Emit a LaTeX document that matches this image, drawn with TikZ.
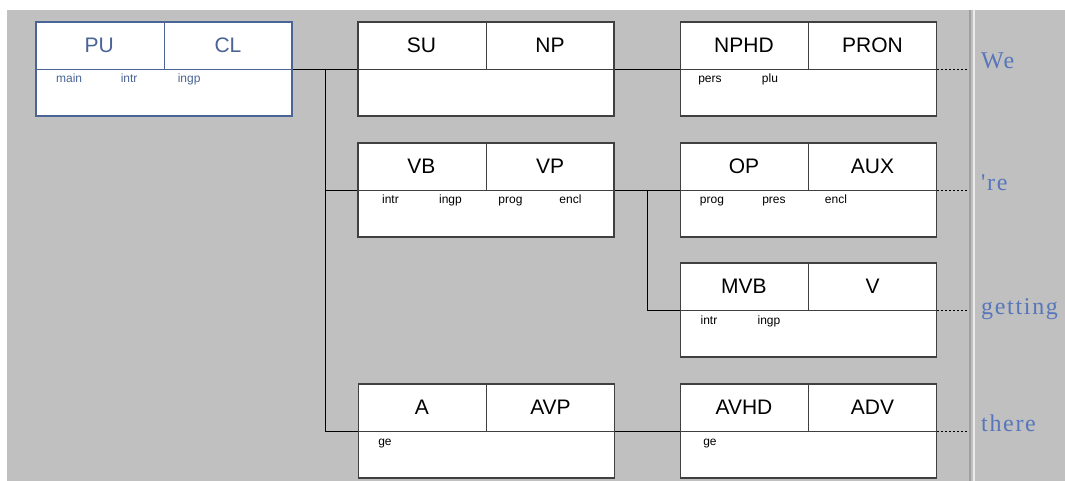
\documentclass[tikz,border=0pt]{standalone}
\usepackage{fontspec}
\setmainfont{Liberation Serif}
\setsansfont{Liberation Sans}
\newfontfamily\wordfont[LetterSpace=7]{Liberation Serif}
\usetikzlibrary{calc}

\definecolor{panelgray}{RGB}{192,192,192}
\definecolor{boxgray}{RGB}{64,64,64}
\definecolor{rootblue}{RGB}{74,100,150}
\definecolor{wordblue}{RGB}{88,118,186}

\begin{document}
\begin{tikzpicture}[x=1pt, y=-1pt, font=\sffamily,
    cat/.style={draw=boxgray, fill=white, line width=1.1pt, minimum width=256pt,
      minimum height=94pt, inner sep=0pt},
    rootcat/.style={cat, draw=rootblue, line width=1.8pt},
    tag/.style={font=\sffamily\fontsize{21}{21}\selectfont},
    feat/.style={font=\sffamily\fontsize{12}{12}\selectfont, anchor=base},
    word/.style={font=\wordfont\fontsize{24}{24}\selectfont, text=wordblue, anchor=base west, inner sep=0pt},
    lead/.style={dash pattern=on 2pt off 2pt, line width=0.7pt}]
  % background panel and separator
  \useasboundingbox (0,0) rectangle (1065,481);
  \fill[panelgray] (7,10) rectangle (1065,481);
  \draw[gray!75, line width=2pt] (970,10) -- (970,481);
  \draw[white!92!black, line width=2pt] (974,10) -- (974,481);
  % boxes
  \node[rootcat] (pu) at (164,69) {};
  \node[cat] (su) at (486,69) {};
  \node[cat] (nphd) at (808.5,69) {};
  \node[cat] (vb) at (486,190) {};
  \node[cat] (op) at (808.5,190) {};
  \node[cat] (mvb) at (808.5,310) {};
  \node[cat] (a) at (486.5,431) {};
  \node[cat] (avhd) at (808.5,431) {};
  % cell dividers
  \draw[rootblue, line width=0.8pt] (pu.west) -- (pu.east) (pu.north) -- (pu.center);
  \foreach \b in {su,nphd,vb,op,mvb,a,avhd}
    \draw[boxgray, line width=0.8pt] (\b.west) -- (\b.east) (\b.north) -- (\b.center);
  % function and category labels
  \node[tag, text=rootblue] (pu-fn) at ($(pu.north west)+(64,24)$) {PU};
  \node[tag, text=rootblue] (pu-ct) at ($(pu.north)+(64,24)$) {CL};
  \node[tag] (su-fn) at ($(su.north west)+(64,24)$) {SU};
  \node[tag] (su-ct) at ($(su.north)+(64,24)$) {NP};
  \node[tag] (nphd-fn) at ($(nphd.north west)+(64,24)$) {NPHD};
  \node[tag] (nphd-ct) at ($(nphd.north)+(64,24)$) {PRON};
  \node[tag] (vb-fn) at ($(vb.north west)+(64,24)$) {VB};
  \node[tag] (vb-ct) at ($(vb.north)+(64,24)$) {VP};
  \node[tag] (op-fn) at ($(op.north west)+(64,24)$) {OP};
  \node[tag] (op-ct) at ($(op.north)+(64,24)$) {AUX};
  \node[tag] (mvb-fn) at ($(mvb.north west)+(64,24)$) {MVB};
  \node[tag] (mvb-ct) at ($(mvb.north)+(64,24)$) {V};
  \node[tag] (a-fn) at ($(a.north west)+(64,24)$) {A};
  \node[tag] (a-ct) at ($(a.north)+(64,24)$) {AVP};
  \node[tag] (avhd-fn) at ($(avhd.north west)+(64,24)$) {AVHD};
  \node[tag] (avhd-ct) at ($(avhd.north)+(64,24)$) {ADV};
  % features
  \foreach \f [count=\i] in {main,intr,ingp}
    \node[feat, text=rootblue] (pu-f\i) at ($(pu.west)+(-26+60*\i,14)$) {\f};
  \foreach \f [count=\i] in {pers,plu}
    \node[feat] (nphd-f\i) at ($(nphd.west)+(-30+60*\i,14)$) {\f};
  \foreach \f [count=\i] in {intr,ingp,prog,encl}
    \node[feat] (vb-f\i) at ($(vb.west)+(-27+60*\i,14)$) {\f};
  \foreach \f [count=\i] in {prog,pres,encl}
    \node[feat] (op-f\i) at ($(op.west)+(-30+62*\i,14)$) {\f};
  \foreach \f [count=\i] in {intr,ingp}
    \node[feat] (mvb-f\i) at ($(mvb.west)+(-31+60*\i,14)$) {\f};
  \node[feat] (a-f1) at ($(a.west)+(27,14)$) {ge};
  \node[feat] (avhd-f1) at ($(avhd.west)+(30,14)$) {ge};
  % tree connectors
  \coordinate (trunk1) at (325,69);
  \coordinate (trunk2) at (647,190);
  \draw (pu.east) -- (su.west);
  \draw (trunk1) |- (vb.west);
  \draw (trunk1) |- (a.west);
  \draw (su.east) -- (nphd.west);
  \draw (vb.east) -- (op.west);
  \draw (trunk2) |- (mvb.west);
  \draw (a.east) -- (avhd.west);
  % words
  \coordinate (sep) at (969,0);
  \node[word] (w1) at (981,69) {We};
  \node[word] (w2) at (981,190) {'re};
  \node[word] (w3) at (981,314) {getting};
  \node[word] (w4) at (981,431) {there};
  \draw[lead] (nphd.east) -- (nphd.east -| sep);
  \draw[lead] (op.east) -- (op.east -| sep);
  \draw[lead] (mvb.east) -- (mvb.east -| sep);
  \draw[lead] (avhd.east) -- (avhd.east -| sep);
\end{tikzpicture}
\end{document}
